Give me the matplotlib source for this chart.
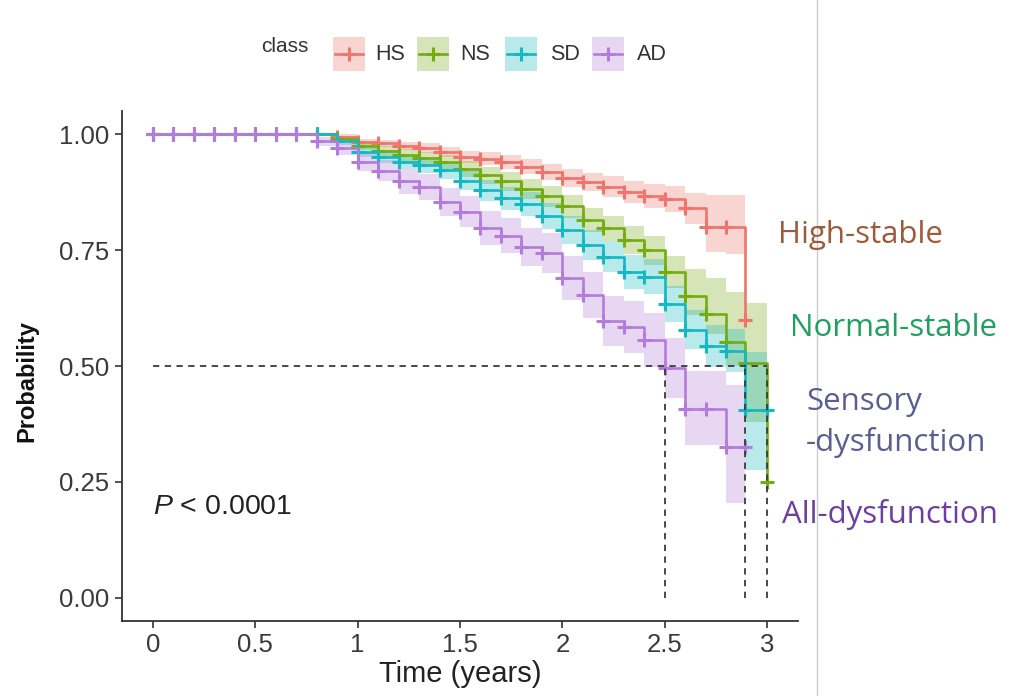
import matplotlib
matplotlib.use('Agg')
import matplotlib.pyplot as plt
from matplotlib.patches import Rectangle
from matplotlib.lines import Line2D

plt.rcParams['font.family'] = ['Liberation Sans', 'DejaVu Sans']
plt.rcParams['mathtext.fontset'] = 'custom'
plt.rcParams['mathtext.it'] = 'Liberation Sans:italic'
plt.rcParams['mathtext.rm'] = 'Liberation Sans'

# ---- data ----
classes = ['HS', 'NS', 'SD', 'AD']
colors = ['#EE746C', '#74AC12', '#14B8C0', '#B47CDA']

HS_t = [0, 0.1, 0.2, 0.3, 0.4, 0.5, 0.6, 0.7, 0.8, 0.9, 1.0, 1.1, 1.2, 1.3, 1.4,
        1.5, 1.6, 1.7, 1.8, 1.9, 2.0, 2.1, 2.2, 2.3, 2.4, 2.5, 2.6, 2.7, 2.8, 2.89]
HS_s = [1, 1, 1, 1, 1, 1, 1, 1, 1, 0.995, 0.983, 0.98, 0.974, 0.97, 0.962,
        0.951, 0.947, 0.94, 0.93, 0.919, 0.905, 0.897, 0.887, 0.876, 0.866, 0.861, 0.84, 0.80, 0.80, 0.60]
HS_lo = [1, 1, 1, 1, 1, 1, 1, 1, 1, 0.99, 0.975, 0.972, 0.965, 0.96, 0.95,
         0.938, 0.933, 0.925, 0.914, 0.902, 0.886, 0.877, 0.865, 0.852, 0.84, 0.833, 0.806, 0.745, 0.742, 0.60]
HS_hi = [1, 1, 1, 1, 1, 1, 1, 1, 1, 1.0, 0.99, 0.988, 0.983, 0.98, 0.973,
         0.964, 0.961, 0.955, 0.946, 0.936, 0.924, 0.917, 0.909, 0.90, 0.892, 0.889, 0.874, 0.868, 0.868, 0.60]

NS_t = [0, 0.1, 0.2, 0.3, 0.4, 0.5, 0.6, 0.7, 0.8, 0.9, 1.0, 1.1, 1.2, 1.3, 1.4,
        1.5, 1.6, 1.7, 1.8, 1.9, 2.0, 2.1, 2.2, 2.3, 2.4, 2.5, 2.6, 2.7, 2.8, 2.89, 3.0]
NS_s = [1, 1, 1, 1, 1, 1, 1, 1, 1, 0.99, 0.975, 0.963, 0.955, 0.948, 0.94,
        0.925, 0.912, 0.898, 0.882, 0.866, 0.845, 0.815, 0.797, 0.772, 0.75, 0.703, 0.65, 0.612, 0.552, 0.506, 0.25]
NS_lo = [1, 1, 1, 1, 1, 1, 1, 1, 1, 0.983, 0.965, 0.951, 0.941, 0.933, 0.924,
         0.907, 0.893, 0.877, 0.86, 0.842, 0.82, 0.788, 0.769, 0.742, 0.718, 0.668, 0.611, 0.568, 0.50, 0.38, 0.25]
NS_hi = [1, 1, 1, 1, 1, 1, 1, 1, 1, 0.997, 0.985, 0.975, 0.968, 0.962, 0.955,
         0.942, 0.93, 0.918, 0.903, 0.889, 0.869, 0.841, 0.824, 0.801, 0.781, 0.738, 0.71, 0.69, 0.66, 0.635, 0.25]

SD_t = [0, 0.1, 0.2, 0.3, 0.4, 0.5, 0.6, 0.7, 0.8, 0.9, 1.0, 1.1, 1.2, 1.3, 1.4,
        1.5, 1.6, 1.7, 1.8, 1.9, 2.0, 2.1, 2.2, 2.3, 2.4, 2.5, 2.6, 2.7, 2.8, 2.89, 3.0]
SD_s = [1, 1, 1, 1, 1, 1, 1, 1, 1, 0.985, 0.962, 0.951, 0.94, 0.933, 0.922,
        0.90, 0.879, 0.862, 0.85, 0.823, 0.793, 0.761, 0.736, 0.703, 0.693, 0.633, 0.578, 0.543, 0.533, 0.405, 0.405]
SD_lo = [1, 1, 1, 1, 1, 1, 1, 1, 1, 0.977, 0.95, 0.937, 0.924, 0.916, 0.903,
         0.879, 0.856, 0.837, 0.824, 0.795, 0.763, 0.729, 0.702, 0.667, 0.656, 0.594, 0.536, 0.497, 0.486, 0.275, 0.405]
SD_hi = [1, 1, 1, 1, 1, 1, 1, 1, 1, 0.993, 0.974, 0.965, 0.956, 0.95, 0.941,
         0.921, 0.902, 0.887, 0.876, 0.851, 0.823, 0.793, 0.77, 0.739, 0.73, 0.672, 0.62, 0.589, 0.58, 0.53, 0.405]

AD_t = [0, 0.1, 0.2, 0.3, 0.4, 0.5, 0.6, 0.7, 0.8, 0.9, 1.0, 1.1, 1.2, 1.3, 1.4,
        1.5, 1.6, 1.7, 1.8, 1.9, 2.0, 2.1, 2.2, 2.3, 2.4, 2.5, 2.6, 2.7, 2.8, 2.89]
AD_s = [1, 1, 1, 1, 1, 1, 1, 1, 0.985, 0.97, 0.94, 0.921, 0.898, 0.887, 0.854,
        0.833, 0.797, 0.781, 0.757, 0.743, 0.69, 0.653, 0.597, 0.584, 0.556, 0.496, 0.407, 0.407, 0.326, 0.326]
AD_lo = [1, 1, 1, 1, 1, 1, 1, 1, 0.975, 0.955, 0.92, 0.898, 0.872, 0.859, 0.823,
         0.799, 0.76, 0.743, 0.716, 0.70, 0.643, 0.603, 0.543, 0.528, 0.497, 0.432, 0.33, 0.33, 0.205, 0.326]
AD_hi = [1, 1, 1, 1, 1, 1, 1, 1, 0.995, 0.985, 0.96, 0.944, 0.924, 0.915, 0.885,
         0.867, 0.834, 0.819, 0.798, 0.786, 0.737, 0.703, 0.651, 0.64, 0.615, 0.56, 0.49, 0.49, 0.46, 0.326]

series = [(HS_t, HS_s, HS_lo, HS_hi), (NS_t, NS_s, NS_lo, NS_hi),
          (SD_t, SD_s, SD_lo, SD_hi), (AD_t, AD_s, AD_lo, AD_hi)]

medians = [2.5, 2.89, 3.0]
right_labels = ['High-stable', 'Normal-stable', 'Sensory', '-dysfunction', 'All-dysfunction']
right_colors = ['#9E5B3C', '#20A060', '#5A5E90', '#5A5E90', '#6E3FA0']

W, H = 1010, 696
fig = plt.figure(figsize=(W / 100, H / 100), dpi=100)
ax = fig.add_axes([122 / W, 1 - 621 / H, (798 - 122) / W, (621 - 111) / H])

def px(x, y):
    return x / W, 1 - y / H

for (t, s, lo, hi), c in zip(series, colors):
    ax.fill_between(t, lo, hi, step='post', color=c, alpha=0.3, lw=0)
for (t, s, lo, hi), c in zip(series, colors):
    ax.step(t, s, where='post', color=c, lw=1.9)
    ax.plot(t, s, '+', color=c, ms=10, mew=2.2)

dash = (0, (3.5, 3))
ax.plot([0, max(medians)], [0.5, 0.5], ls=dash, color='#3a3a3a', lw=1.3)
for m in medians:
    ax.plot([m, m], [0, 0.5], ls=dash, color='#3a3a3a', lw=1.3)

ax.set_xlim(-0.15, 3.15)
ax.set_ylim(-0.05, 1.05)
ax.set_xticks([0, 0.5, 1, 1.5, 2, 2.5, 3])
ax.set_xticklabels(['0', '0.5', '1', '1.5', '2', '2.5', '3'])
ax.set_yticks([0, 0.25, 0.5, 0.75, 1.0])
ax.set_yticklabels(['0.00', '0.25', '0.50', '0.75', '1.00'])
for side in ['top', 'right']:
    ax.spines[side].set_visible(False)
for side in ['left', 'bottom']:
    ax.spines[side].set_color('#333333')
    ax.spines[side].set_linewidth(1.3)
ax.tick_params(colors='#333333', labelcolor='#3a3a3a', labelsize=18.5, length=5, width=1.2, pad=4)
ax.set_xlabel('Time (years)', fontsize=21, color='#222222', labelpad=2)
ax.set_ylabel('Probability', fontsize=17, fontweight='bold', color='#111111')
ax.yaxis.set_label_coords(-0.124, 0.47)

ax.text(0, 0.195, r'$P$ < 0.0001', fontsize=20.5, color='#222222', va='center', ha='left')

# legend on top
fig.text(*px(261, 46), 'class', fontsize=15, color='#333333', va='center', ha='left')
box_x = [333, 417, 505, 592]
lab_x = [375, 460, 550, 637]
for bx, lx, c, name in zip(box_x, lab_x, colors, classes):
    x0, y0 = px(bx, 71)
    fig.add_artist(Rectangle((x0, y0), 32 / W, 34 / H, transform=fig.transFigure,
                             facecolor=c, alpha=0.3, lw=0))
    xa, ya = px(bx + 2, 54)
    xb, _ = px(bx + 30, 54)
    fig.add_artist(Line2D([xa, xb], [ya, ya], transform=fig.transFigure, color=c, lw=1.9))
    fig.add_artist(Line2D([(xa + xb) / 2], [ya], transform=fig.transFigure, color=c,
                          marker='+', ms=10, mew=2.2))
    fig.text(*px(lx, 55), name, fontsize=15.5, color='#333333', va='center', ha='left')

# annotations added on the right
fig.add_artist(Line2D([817 / W, 817 / W], [0, 1], transform=fig.transFigure, color='#cccccc', lw=1))
lab_pos = [(778, 235), (790, 328), (806, 402), (806, 442), (782, 515)]
for (x, y), txt, c in zip(lab_pos, right_labels, right_colors):
    fig.text(*px(x, y), txt, fontsize=22.5, color=c, va='center', ha='left',
             family=['Open Sans', 'DejaVu Sans'])

fig.savefig('out.png', dpi=100)
